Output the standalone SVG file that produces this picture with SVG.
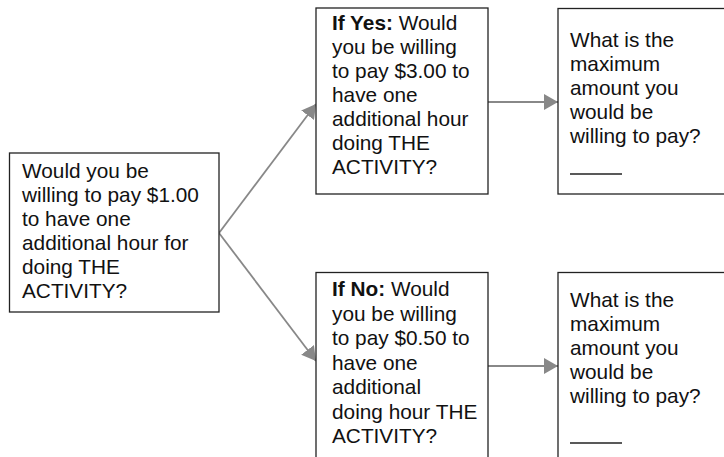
<svg xmlns="http://www.w3.org/2000/svg" width="724" height="457" viewBox="0 0 724 457">
  <style>
    .box { fill: #ffffff; stroke: #222222; stroke-width: 1.3; }
    .txt { font-family: "Liberation Sans", Arial, sans-serif; font-size: 20.8px; fill: #111111; }
    .b { font-weight: bold; }
    .conn { stroke: #888888; stroke-width: 1.8; fill: none; }
    .blank { stroke: #222222; stroke-width: 1.3; }
  </style>
  <defs>
    <marker id="arrow" viewBox="0 0 14 16" refX="14" refY="8" markerWidth="14" markerHeight="16" markerUnits="userSpaceOnUse" orient="auto">
      <path d="M0,0 L14,8 L0,16 Z" fill="#888888"/>
    </marker>
  </defs>

  <rect width="724" height="457" fill="#ffffff"/>

  <!-- connectors -->
  <g id="connectors">
    <line class="conn" x1="219" y1="233" x2="316" y2="104" marker-end="url(#arrow)"/>
    <line class="conn" x1="219" y1="233" x2="316" y2="361" marker-end="url(#arrow)"/>
    <line class="conn" x1="488" y1="102" x2="558" y2="102" marker-end="url(#arrow)"/>
    <line class="conn" x1="488" y1="366" x2="558" y2="366" marker-end="url(#arrow)"/>
  </g>

  <!-- first question -->
  <g id="q1">
    <rect class="box" x="9.5" y="153" width="209.5" height="159"/>
    <text class="txt" x="22" y="178">
      <tspan x="22" y="178">Would you be</tspan>
      <tspan x="22" y="202">willing to pay $1.00</tspan>
      <tspan x="22" y="226">to have one</tspan>
      <tspan x="22" y="250">additional hour for</tspan>
      <tspan x="22" y="274">doing THE</tspan>
      <tspan x="22" y="298">ACTIVITY?</tspan>
    </text>
  </g>

  <!-- follow-up if yes -->
  <g id="q-yes">
    <rect class="box" x="316" y="8" width="172" height="186"/>
    <text class="txt" x="332" y="30">
      <tspan x="332" y="30"><tspan class="b">If Yes:</tspan> Would</tspan>
      <tspan x="332" y="54">you be willing</tspan>
      <tspan x="332" y="78">to pay $3.00 to</tspan>
      <tspan x="332" y="102">have one</tspan>
      <tspan x="332" y="126">additional hour</tspan>
      <tspan x="332" y="150">doing THE</tspan>
      <tspan x="332" y="174">ACTIVITY?</tspan>
    </text>
  </g>

  <!-- follow-up if no -->
  <g id="q-no">
    <rect class="box" x="316" y="272.5" width="172" height="200"/>
    <text class="txt" x="332" y="296">
      <tspan x="332" y="296"><tspan class="b">If No:</tspan> Would</tspan>
      <tspan x="332" y="320.5">you be willing</tspan>
      <tspan x="332" y="345">to pay $0.50 to</tspan>
      <tspan x="332" y="369.5">have one</tspan>
      <tspan x="332" y="394">additional</tspan>
      <tspan x="332" y="418.5">doing hour THE</tspan>
      <tspan x="332" y="443">ACTIVITY?</tspan>
    </text>
  </g>

  <!-- maximum amount, yes branch -->
  <g id="max-yes">
    <rect class="box" x="558" y="8.5" width="180" height="185.5"/>
    <text class="txt" x="570" y="47">
      <tspan x="570" y="47">What is the</tspan>
      <tspan x="570" y="71">maximum</tspan>
      <tspan x="570" y="95">amount you</tspan>
      <tspan x="570" y="119">would be</tspan>
      <tspan x="570" y="143">willing to pay?</tspan>
    </text>
    <line class="blank" x1="570" y1="174" x2="622" y2="174"/>
  </g>

  <!-- maximum amount, no branch -->
  <g id="max-no">
    <rect class="box" x="558" y="272.5" width="180" height="200"/>
    <text class="txt" x="570" y="307">
      <tspan x="570" y="307">What is the</tspan>
      <tspan x="570" y="331">maximum</tspan>
      <tspan x="570" y="355">amount you</tspan>
      <tspan x="570" y="379">would be</tspan>
      <tspan x="570" y="403">willing to pay?</tspan>
    </text>
    <line class="blank" x1="570" y1="443" x2="622" y2="443"/>
  </g>
</svg>
